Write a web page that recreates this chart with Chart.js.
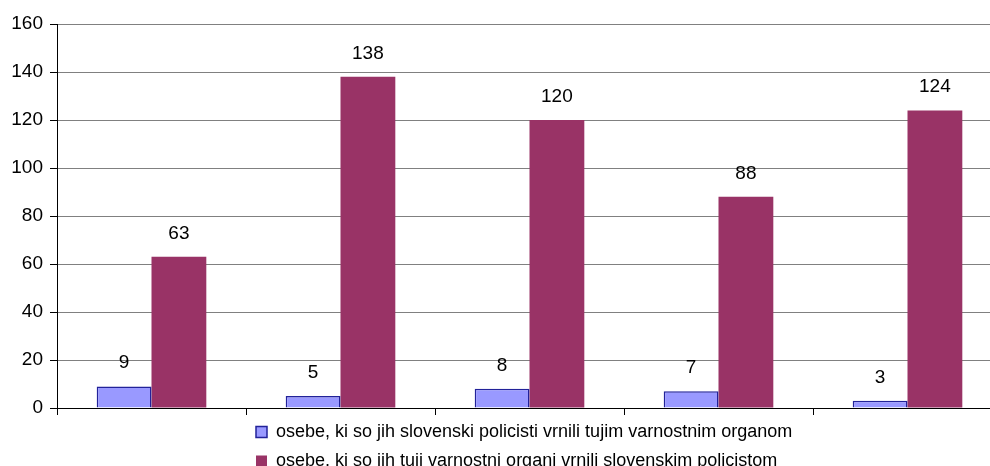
<!DOCTYPE html>
<html>
<head>
<meta charset="utf-8">
<script src="https://cdn.jsdelivr.net/npm/chart.js@4"></script>
<style>
  html, body { margin: 0; padding: 0; background: #fff; overflow: hidden; }
  #wrap { width: 1060px; height: 480px; }
</style>
</head>
<body>
<div id="wrap"><canvas id="chart"></canvas></div>
<script>
// podatki
const kategorije = ['', '', '', '', ''];
const vrnjeniTujim = [9, 5, 8, 7, 3];
const vrnjeniSlovenskim = [63, 138, 120, 88, 124];
const oznakaA = 'osebe, ki so jih slovenski policisti vrnili tujim varnostnim organom';
const oznakaB = 'osebe, ki so jih tuji varnostni organi vrnili slovenskim policistom';

const pisava = 'Liberation Sans, Arial, sans-serif';

// vrednosti nad stolpci
const vrednostiPlugin = {
    id: 'vrednosti',
    afterDatasetsDraw(chart) {
        const ctx = chart.ctx;
        ctx.save();
        ctx.font = '19px ' + pisava;
        ctx.fillStyle = '#000';
        ctx.textAlign = 'center';
        ctx.textBaseline = 'bottom';
        chart.data.datasets.forEach((ds, i) => {
            chart.getDatasetMeta(i).data.forEach((bar, j) => {
                ctx.fillText(ds.data[j], bar.x, bar.y - 14);
            });
        });
        ctx.restore();
    }
};

// legenda: vrstici poravnani levo, blok na sredini (kot v Excelu)
const zamikLegende = {
    id: 'zamikLegende',
    afterLayout(chart) {
        if (chart.legend) {
            chart.legend.left = 245;
        }
    }
};

new Chart(document.getElementById('chart'), {
    type: 'bar',
    data: {
        labels: kategorije,
        datasets: [{
            label: oznakaA,
            data: vrnjeniTujim,
            backgroundColor: '#9999FF',
            borderColor: '#222299',
            borderWidth: 1.5
        }, {
            label: oznakaB,
            data: vrnjeniSlovenskim,
            backgroundColor: '#993366',
            borderWidth: 0
        }]
    },
    options: {
        responsive: true,
        maintainAspectRatio: false,
        animation: false,
        categoryPercentage: 0.58,
        barPercentage: 1,
        layout: { padding: { top: 24, right: 58, left: 0, bottom: 0 } },
        plugins: {
            legend: {
                position: 'bottom',
                align: 'start',
                labels: {
                    font: { family: pisava, size: 18 },
                    color: '#000',
                    boxWidth: 11,
                    boxHeight: 11,
                    padding: 11
                }
            },
            tooltip: { enabled: false }
        },
        scales: {
            x: {
                offset: true,
                grid: {
                    offset: true,
                    drawOnChartArea: false,
                    tickLength: 7,
                    color: '#000'
                },
                border: { color: '#000', width: 1 },
                ticks: { display: false },
                afterFit: s => { s.height = 4; }
            },
            y: {
                min: 0,
                max: 160,
                ticks: {
                    stepSize: 20,
                    font: { family: pisava, size: 19 },
                    color: '#000',
                    padding: 7
                },
                grid: {
                    color: '#808080',
                    tickLength: 7,
                    tickColor: '#000'
                },
                border: { color: '#000', width: 1 },
                afterFit: s => { s.width = 57; }
            }
        }
    },
    plugins: [vrednostiPlugin, zamikLegende]
});
</script>
</body>
</html>
